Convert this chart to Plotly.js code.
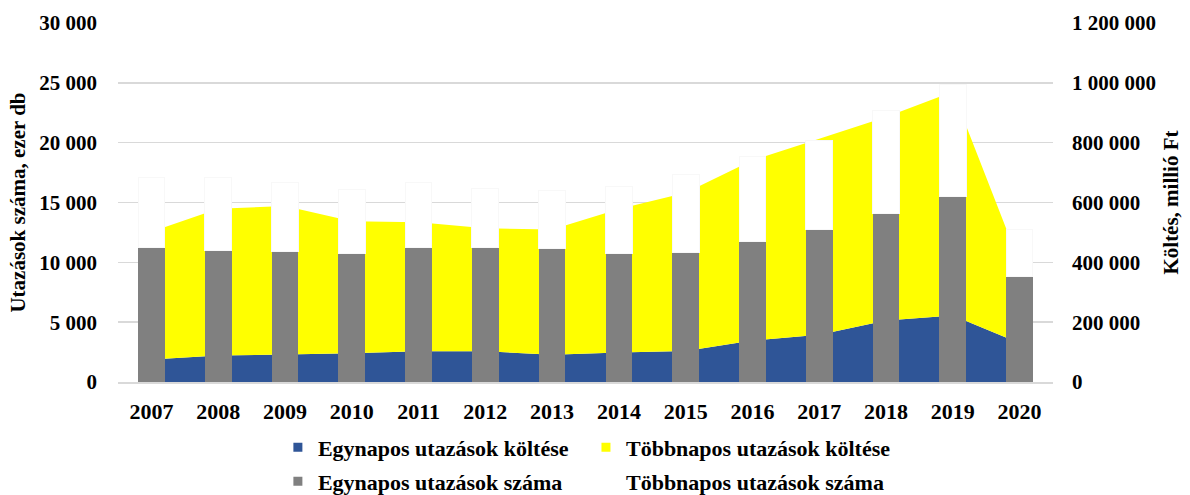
<!DOCTYPE html>
<html><head><meta charset="utf-8">
<script src="https://cdn.plot.ly/plotly-3.0.1.min.js"></script>
<style>html,body{margin:0;padding:0;background:#fff}#chart{width:1190px;height:495px}</style>
</head><body><div id="chart"></div>
<script>
const years = ['2007','2008','2009','2010','2011','2012','2013','2014','2015','2016','2017','2018','2019','2020'];
// Utazások száma, ezer db (left axis)
const egynaposSzama = [11280, 11010, 10920, 10730, 11280, 11230, 11150, 10730, 10860, 11780, 12760, 14120, 15520, 8810];
const tobbnaposSzama = [5800, 6070, 5740, 5350, 5380, 4980, 4870, 5570, 6470, 7080, 7440, 8600, 9330, 3930];
// Költés, millió Ft (right axis)
const egynaposKoltese = [75500, 88600, 92100, 96400, 103100, 102500, 91400, 98400, 103600, 138700, 157600, 205400, 222600, 130000];
const tobbnaposKoltese = [426500, 490400, 495900, 440600, 430900, 411500, 418600, 479600, 529400, 602300, 655400, 680600, 747400, 268000];

const names = ['Egynapos utazások költése','Többnapos utazások költése','Egynapos utazások száma','Többnapos utazások száma'];
const colors = ['#2F5597','#FFFF00','#808080','#FFFFFF'];
const FONT = 'Liberation Serif, Times New Roman, serif';

const traces = [
  {type:'scatter', x:years, y:egynaposKoltese, stackgroup:'k', mode:'none', fillcolor:colors[0], line:{width:0}, yaxis:'y', showlegend:false, name:names[0], hoverinfo:'skip'},
  {type:'scatter', x:years, y:tobbnaposKoltese, stackgroup:'k', mode:'none', fillcolor:colors[1], line:{width:0}, yaxis:'y', showlegend:false, name:names[1], hoverinfo:'skip'},
  {type:'bar', x:years, y:egynaposSzama, yaxis:'y2', marker:{color:colors[2], line:{width:0}}, showlegend:false, name:names[2]},
  {type:'bar', x:years, y:tobbnaposSzama, yaxis:'y2', marker:{color:colors[3], line:{color:'#F8F8F8', width:1}}, showlegend:false, name:names[3]}
];
const legendIds = ['legend','legend2','legend3','legend4'];
names.forEach((n,i)=>{
  traces.push({type:'scatter', x:[null], y:[null], mode:'markers', yaxis:'y', name:n, legend:legendIds[i],
    marker:{symbol:'square', size:9, color:colors[i], line:{width:0}}, showlegend:true});
});

function leg(x,y){
  return {x:x, xanchor:'left', y:y, yanchor:'middle', orientation:'v', bgcolor:'rgba(0,0,0,0)',
          borderwidth:0, itemwidth:30, font:{family:FONT, size:22, color:'#000', weight:'bold'}};
}

const layout = {
  width:1190, height:495,
  margin:{l:118, r:137, t:23, b:113, autoexpand:false},
  paper_bgcolor:'#fff', plot_bgcolor:'#fff',
  separators:', ',
  font:{family:FONT, size:20, color:'#000', weight:'bold'},
  barmode:'stack', bargap:0.6,
  showlegend:true,
  xaxis:{type:'category', range:[-0.5,13.5], showgrid:false, showline:true, linecolor:'#D9D9D9', linewidth:1.5,
         ticks:'', tickfont:{size:22}, ticklabelstandoff:9, fixedrange:true},
  yaxis:{side:'right', range:[0,1200000], dtick:200000, tick0:0, showgrid:true, gridcolor:'#D9D9D9', gridwidth:1.5,
         zeroline:false, exponentformat:'none', separatethousands:true, ticks:'', ticklabelstandoff:18,
         tickfont:{size:21}, automargin:false,
         title:{text:'Költés, millió Ft', font:{size:21}, standoff:8}},
  yaxis2:{overlaying:'y', side:'left', range:[0,30000], dtick:5000, tick0:0, showgrid:false, zeroline:false,
          exponentformat:'none', separatethousands:true, ticks:'', ticklabelstandoff:20, tickfont:{size:21},
          automargin:false, title:{text:'Utazások száma, ezer db', font:{size:21}, standoff:7}},
  legend: leg(0.171, -0.182),
  legend2: leg(0.5005, -0.182),
  legend3: leg(0.171, -0.277),
  legend4: leg(0.5005, -0.277)
};

Plotly.newPlot('chart', traces, layout, {displayModeBar:false, staticPlot:true});
</script></body></html>
